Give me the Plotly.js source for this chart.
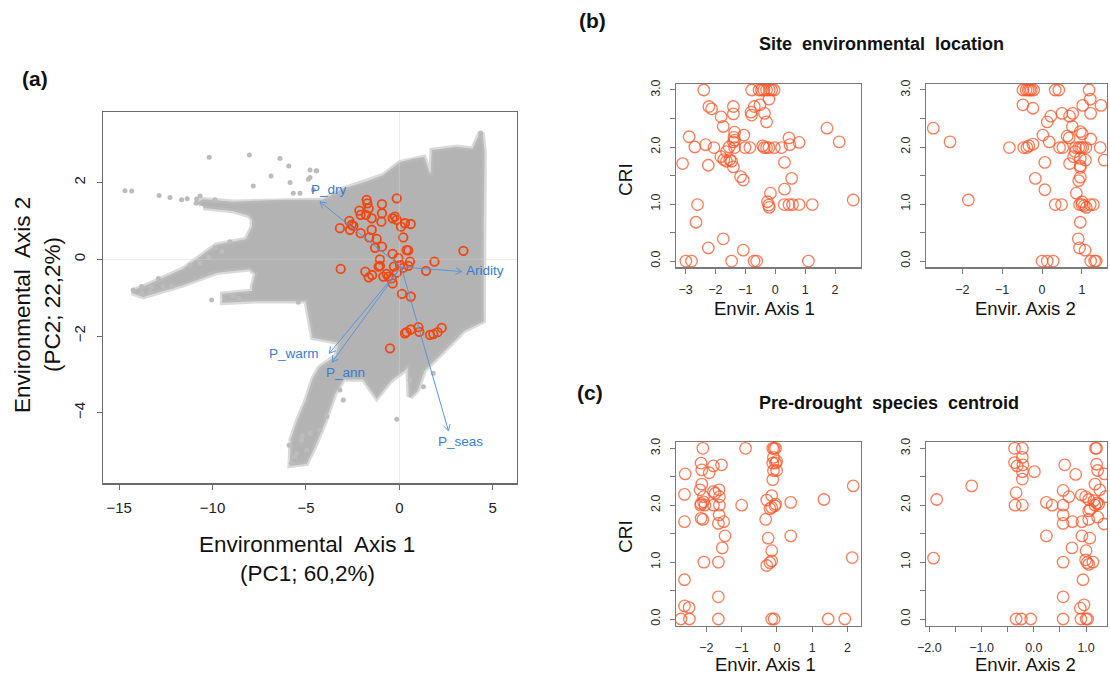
<!DOCTYPE html>
<html>
<head>
<meta charset="utf-8">
<script src="https://cdn.plot.ly/plotly-3.0.1.min.js"></script>
<style>
  html, body { margin: 0; padding: 0; background: #ffffff; }
  #chart { width: 1110px; height: 676px; }
</style>
</head>
<body>
<div id="chart"></div>
<script>
// ---------- (a) environmental space: outline of the background cloud (PC1, PC2) ----------
const cloudX = [-10.8,-10.5,-8.9,-6.2,-4.1,-3.0,-1.75,-0.86,0.04,0.75,1.29,1.55,1.75,1.8,3.07,3.96,4.2,4.38,4.5,4.45,
                4.45,4.15,3.43,3.07,2.54,2.0,1.29,0.93,0.57,0.5,0.21,-0.5,-1.21,-1.9,-3.0,-3.5,-4.0,-4.6,-5.0,-5.8,
                -5.75,-5.4,-4.96,-4.6,-4.25,-3.35,-3.18,-4.6,-4.78,-4.96,-7.64,-9.42,-9.42,-7.82,-7.82,-7.64,-8.0,-9.78,-11.57,-13.71,
                -14.3,-13.35,-11.57,-9.78,-8.17,-7.82,-7.82,-8.0,-8.89,-10.5];
const cloudY = [1.45,1.53,1.47,1.52,1.52,1.81,2.0,2.16,2.5,2.59,2.63,2.25,2.2,2.82,2.9,2.85,3.1,3.3,2.8,1.0,
                -1.6,-1.67,-1.84,-2.02,-2.28,-2.54,-2.89,-3.4,-3.58,-2.75,-2.89,-3.15,-3.58,-3.1,-3.1,-3.5,-4.2,-4.9,-5.3,-5.35,
                -4.7,-4.2,-3.7,-3.15,-2.84,-2.54,-2.15,-2.02,-1.58,-1.06,-1.06,-1.1,-0.93,-0.85,-0.71,-0.37,-0.23,-0.32,-0.64,-0.95,
                -0.85,-0.67,-0.28,0.35,0.5,0.85,1.03,1.16,1.29,1.37];

// scattered background cells lying outside the dense cloud
const strayX = [-10.18,-8.03,-6.39,-5.92,-4.42,-6.87,-5.85,-7.82,-4.87,-14.69,-14.33,-12.86,-12.28,-11.66,-11.36,-10.85,-10.67,-10.89,-5.68,-5.32,
                -4.6,-9.87,-9.07,-9.87,-14.25,-13.8,-13.8,-13.26,-13.35,-12.64,-12.19,-10.05,-5.41,-0.14,-5.77,-5.5,-4.96,-5.23,-4.79,-4.25,
                -3.89,-3.0,-3.18,1.29,0.57,1.82,-4.78,-4.46,-4.78,4.36,-10.67,-10.2,-9.5,-12.9,-11.2,-8.6,-8.9,-5.9,-5.6,-5.2];
const strayY = [2.66,2.72,2.63,2.43,2.31,2.17,2.0,1.91,2.09,1.79,1.78,1.66,1.61,1.55,1.58,1.57,1.65,1.46,1.72,1.72,
                1.81,1.55,0.46,0.31,-0.80,-0.71,-0.87,-0.71,-0.85,-0.71,-0.71,-1.06,-1.12,-4.17,-5.32,-5.06,-4.97,-4.71,-4.54,-4.45,
                -4.1,-3.67,-3.41,-3.32,-3.15,-2.97,2.33,2.31,2.13,3.29,-0.1,0.05,0.2,-0.5,-0.15,-1.02,-0.96,-4.85,-5.15,-4.6];

// study sites in the same space
const siteX = [-1.75,-1.71,-0.14,-0.93,-0.93,-2.14,-2.07,-1.79,-1.64,-1.48,-0.96,-0.36,-0.23,-0.14,0.09,0.30,0.61,0.21,-2.68,-2.55,
               -2.64,-3.18,-2.46,-2.07,-1.48,-1.61,-1.21,-1.30,-0.93,0.39,0.48,3.43,-0.36,-1.04,-0.05,0.57,1.88,1.43,-3.14,-1.11,
               -1.04,0.04,0.21,-0.29,-1.82,-1.64,-1.46,-0.86,-0.59,-0.68,-0.41,-0.14,-0.36,0.14,0.61,0.30,0.39,0.61,1.02,1.07,
               1.64,1.82,2.05,2.27,-0.5,0.48];
const siteY = [1.55,1.46,1.59,1.44,1.20,1.27,1.16,1.16,1.33,1.07,0.98,1.07,1.11,1.03,0.85,0.94,0.92,0.57,1.0,0.90,
               0.77,0.81,0.87,0.68,0.77,0.57,0.53,0.30,0.33,0.24,0.23,0.22,0.14,0.0,0.03,-0.06,-0.06,-0.30,-0.25,-0.19,
               -0.17,-0.15,-0.22,-0.19,-0.32,-0.47,-0.41,-0.45,-0.45,-0.38,-0.50,-0.35,-0.63,-0.90,-0.97,-1.93,-1.90,-1.83,-1.77,-1.89,
               -1.97,-1.95,-1.90,-1.79,-2.32,-0.17];

// climate variable loadings (arrow tips), common origin and label positions
const loadNames  = ['P_dry', 'Aridity', 'P_seas', 'P_warm', 'P_ann'];
const loadX      = [-4.25, 3.34, 2.63, -3.75, -3.60];
const loadY      = [1.50, -0.32, -4.47, -2.45, -2.68];
const loadOrigin = [0.1, -0.2];
const loadLabelX = [-3.75, 4.59, 3.25, -5.64, -2.87];
const loadLabelY = [1.83, -0.30, -4.76, -2.45, -2.95];

// ---------- (b) site environmental location vs CRI ----------
const siteAxis1 = [-2.39,-0.79,-0.54,-0.46,-0.38,-0.29,-0.20,-0.12,-0.04,-0.21,-0.51,-0.70,-2.22,-2.13,-1.40,-1.40,-0.81,-0.79,-0.36,-1.81,
                   -0.29,-1.74,1.73,-1.36,-1.38,-1.36,-1.40,-1.36,-1.05,-2.88,0.46,2.14,0.80,0.49,-2.33,-2.69,-2.05,-1.54,-1.01,-0.85,
                   -0.42,-0.37,-0.29,-0.21,-0.03,0.21,-1.63,-1.82,-1.72,-1.63,-1.52,-1.46,-1.40,-3.10,-2.24,0.31,-1.16,-1.07,0.55,-0.16,
                   0.31,-0.26,-0.22,-0.20,-2.60,0.30,0.46,0.58,0.80,1.24,2.61,-2.65,-1.74,-2.24,-1.07,-2.99,-2.80,-1.46,-0.71,-0.62,1.11];
const siteCRI1  = [3.0,3.0,3.0,3.0,3.0,3.0,3.0,3.0,3.0,2.84,2.74,2.71,2.71,2.67,2.71,2.58,2.61,2.56,2.59,2.53,
                   2.44,2.36,2.33,2.26,2.17,2.12,2.09,1.99,2.21,2.18,2.16,2.09,2.08,2.04,2.04,2.0,1.99,2.0,1.99,1.99,
                   2.02,1.99,1.99,1.99,1.99,1.99,1.92,1.83,1.78,1.75,1.78,1.75,1.65,1.71,1.68,1.73,1.48,1.42,1.45,1.19,
                   1.26,1.04,0.98,0.94,0.99,0.99,0.99,0.99,0.99,0.99,1.07,0.68,0.39,0.23,0.19,0.0,0.0,0.0,0.0,0.0,0.0];

const siteAxis2 = [-0.48,-0.40,-0.35,-0.31,-0.27,-0.21,0.33,0.42,1.18,1.21,-0.48,-0.23,1.02,1.48,1.22,0.50,0.77,0.69,0.22,0.13,
                   -2.73,0.76,0.96,1.01,0.02,0.63,0.68,1.22,-2.31,0.18,-0.82,-0.46,-0.38,-0.33,-0.23,0.44,0.52,0.84,0.92,0.97,
                   1.02,1.10,1.46,0.83,0.79,0.96,1.09,1.56,0.07,0.69,0.96,0.96,-0.17,0.96,0.92,0.07,0.86,-1.85,0.33,0.49,
                   0.94,1.0,1.06,1.11,1.21,1.29,1.0,0.96,0.91,0.94,1.08,0.0,0.13,0.28,1.22,1.32,1.36];
const siteCRI2  = [3.0,3.0,3.0,3.0,3.0,3.0,3.0,3.0,3.0,2.84,2.74,2.68,2.73,2.73,2.59,2.59,2.59,2.54,2.54,2.44,
                   2.33,2.36,2.27,2.23,2.21,2.19,2.16,2.14,2.09,2.09,1.99,1.99,1.99,2.02,2.05,1.99,1.99,1.99,1.99,1.99,
                   1.99,1.99,1.99,1.92,1.83,1.80,1.77,1.77,1.73,1.71,1.67,1.64,1.45,1.47,1.41,1.25,1.19,1.07,0.99,0.99,
                   0.99,0.99,0.97,0.94,0.99,0.99,1.04,0.68,0.39,0.23,0.19,0.0,0.0,0.0,0.0,0.0,0.0];

// ---------- (c) pre-drought species centroid vs CRI ----------
const sppAxis1 = [-2.10,-0.89,-0.12,-0.08,-0.04,-0.10,-0.12,-0.04,-0.01,-2.15,-1.80,-1.57,-2.13,-1.92,-0.10,-0.01,-2.60,-0.12,-2.13,2.16,
                  -2.18,-1.64,-1.80,-1.75,-2.62,-0.15,-2.08,-2.08,-2.15,-1.63,1.33,-0.29,0.39,-2.04,-2.16,-1.0,-1.63,-1.80,-0.04,-0.06,
                  -0.15,-0.20,-1.64,-2.15,-2.10,-2.62,-1.51,-0.32,-1.66,-1.47,0.39,-0.25,-1.55,-0.15,-0.15,-0.20,-0.29,-2.07,-1.66,2.13,
                  -2.62,-1.66,-2.62,-2.49,-2.72,-2.48,-1.66,-0.15,-0.08,1.45,1.92];
const sppCRI1  = [3.0,3.0,3.0,3.0,3.0,2.84,2.74,2.74,2.77,2.74,2.69,2.71,2.62,2.57,2.61,2.61,2.55,2.45,2.37,2.34,
                  2.27,2.27,2.24,2.21,2.19,2.17,2.15,2.06,2.03,2.15,2.10,2.09,2.05,2.0,2.0,2.0,2.0,2.0,2.02,1.99,
                  1.96,1.94,1.83,1.77,1.75,1.71,1.71,1.75,1.68,1.46,1.46,1.42,1.25,1.20,1.02,0.99,0.94,1.0,1.0,1.08,
                  0.69,0.39,0.23,0.20,0.0,0.0,0.0,0.0,0.0,0.0,0.0];

const sppAxis2 = [-0.37,-0.22,1.18,1.20,-0.22,-0.37,-0.32,-0.21,1.20,0.59,-0.22,0.01,1.22,0.80,1.35,-0.22,-1.19,1.17,1.26,0.56,
                  -0.34,0.91,0.99,0.67,1.37,-1.86,1.05,1.15,0.24,0.35,-0.36,-0.22,0.56,1.17,1.24,1.21,1.08,1.05,0.56,1.22,
                  1.05,0.56,0.74,0.92,1.34,0.92,1.07,0.24,0.73,1.0,0.99,1.02,1.05,1.13,0.56,-1.92,0.94,0.56,0.96,0.89,
                  -0.34,-0.24,-0.06,0.56,0.90,1.0,1.03];
const sppCRI2  = [3.0,3.0,3.0,3.0,2.84,2.75,2.69,2.71,2.72,2.71,2.59,2.59,2.61,2.54,2.55,2.46,2.34,2.37,2.27,2.26,
                  2.22,2.18,2.15,2.15,2.15,2.10,2.10,2.08,2.05,2.0,2.0,2.0,2.0,2.0,2.02,2.04,1.93,1.90,1.83,1.79,
                  1.75,1.68,1.71,1.71,1.67,1.46,1.42,1.46,1.25,1.20,1.04,0.99,0.96,1.0,1.0,1.07,0.69,0.39,0.25,0.19,
                  0.0,0.0,0.0,0.0,0.0,0.0,0.0];

// ---------- page geometry ----------
const W = 1110, H = 676;
const FONT = 'Liberation Sans, Arial, Helvetica, sans-serif';
const px = v => v / W;
const py = v => 1 - v / H;

const rangeA = { x: [-15.85, 6.30], y: [-5.84, 3.84] };
const boxA = { l: 103.3, r: 517, t: 112, b: 483.3 };

// ---------- traces ----------
const traces = [];

// soft halo first, then the dense cloud body
traces.push({
  type: 'scatter', x: cloudX, y: cloudY, mode: 'lines',
  line: { color: 'rgba(188,188,188,0.55)', width: 7 },
  xaxis: 'x', yaxis: 'y', hoverinfo: 'skip'
});
traces.push({
  type: 'scatter', x: cloudX, y: cloudY, mode: 'lines', fill: 'toself',
  fillcolor: 'rgb(179,179,179)', line: { color: 'rgb(185,185,185)', width: 2.5 },
  xaxis: 'x', yaxis: 'y', hoverinfo: 'skip'
});
traces.push({
  type: 'scatter', x: strayX, y: strayY, mode: 'markers',
  marker: { color: 'rgb(188,188,188)', size: 5 },
  xaxis: 'x', yaxis: 'y', hoverinfo: 'skip'
});
traces.push({
  type: 'scatter', x: siteX, y: siteY, mode: 'markers',
  marker: { symbol: 'circle-open', color: 'rgb(242,70,16)', size: 8.5, line: { width: 1.8 } },
  xaxis: 'x', yaxis: 'y'
});

// loading arrows with open V heads built in pixel space
const kx = (boxA.r - boxA.l) / (rangeA.x[1] - rangeA.x[0]);
const ky = (boxA.b - boxA.t) / (rangeA.y[1] - rangeA.y[0]);
const arrowColor = 'rgb(90,150,218)';
for (let i = 0; i < loadNames.length; i++) {
  const ox = loadOrigin[0], oy = loadOrigin[1];
  const hx = loadX[i], hy = loadY[i];
  traces.push({
    type: 'scatter', x: [ox, hx], y: [oy, hy], mode: 'lines',
    line: { color: arrowColor, width: 1 }, xaxis: 'x', yaxis: 'y', hoverinfo: 'skip'
  });
  const dx = (hx - ox) * kx, dy = (hy - oy) * ky;
  const len = Math.hypot(dx, dy);
  const ux = dx / len, uy = dy / len;
  const L = 7, a = Math.PI / 6;
  const wing = s => {
    const c = Math.cos(s * a), sn = Math.sin(s * a);
    const rx = ux * c - uy * sn, ry = ux * sn + uy * c;
    return [hx - L * rx / kx, hy - L * ry / ky];
  };
  const w1 = wing(1), w2 = wing(-1);
  traces.push({
    type: 'scatter', x: [w1[0], hx, w2[0]], y: [w1[1], hy, w2[1]], mode: 'lines',
    line: { color: arrowColor, width: 1 }, xaxis: 'x', yaxis: 'y', hoverinfo: 'skip'
  });
}

const smallMarker = { symbol: 'circle-open', color: 'rgba(255,84,38,0.78)', size: 11.5, line: { width: 1.3 } };
traces.push({ type: 'scatter', mode: 'markers', x: siteAxis1, y: siteCRI1, marker: smallMarker, xaxis: 'x2', yaxis: 'y2' });
traces.push({ type: 'scatter', mode: 'markers', x: siteAxis2, y: siteCRI2, marker: smallMarker, xaxis: 'x3', yaxis: 'y3' });
traces.push({ type: 'scatter', mode: 'markers', x: sppAxis1, y: sppCRI1, marker: smallMarker, xaxis: 'x4', yaxis: 'y4' });
traces.push({ type: 'scatter', mode: 'markers', x: sppAxis2, y: sppCRI2, marker: smallMarker, xaxis: 'x5', yaxis: 'y5' });

// ---------- axes ----------
const MINUS = '\u2212';
const criVals = [0, 0.5, 1, 1.5, 2, 2.5, 3];
const criText = ['0.0', '', '1.0', '', '2.0', '', '3.0'];

function axisBase(extra) {
  return Object.assign({
    showgrid: false, zeroline: false, showline: true, mirror: true,
    linecolor: '#7a7a7a', linewidth: 1.2, ticks: 'outside', ticklen: 5,
    tickcolor: '#7a7a7a', tickwidth: 1, tickfont: { family: FONT, size: 12.5, color: '#2a2a2a' },
    ticklabelstandoff: 5, fixedrange: true
  }, extra);
}

const layout = {
  width: W, height: H, margin: { l: 0, r: 0, t: 0, b: 0 },
  paper_bgcolor: '#ffffff', plot_bgcolor: '#ffffff', showlegend: false,
  font: { family: FONT },
  xaxis: axisBase({
    domain: [px(boxA.l), px(boxA.r)], range: rangeA.x, anchor: 'y',
    tickvals: [-15, -10, -5, 0, 5], linecolor: '#6a6a6a', tickcolor: '#6a6a6a',
    tickfont: { family: FONT, size: 15, color: '#222' }, ticklen: 5, ticklabelstandoff: 5,
    zeroline: true, zerolinecolor: '#e8e8e8', zerolinewidth: 1
  }),
  yaxis: axisBase({
    domain: [py(boxA.b), py(boxA.t)], range: rangeA.y, anchor: 'x',
    tickvals: [-4, -2, 0, 2], tickangle: -90, linecolor: '#6a6a6a', tickcolor: '#6a6a6a',
    tickfont: { family: FONT, size: 15, color: '#222' }, ticklen: 5, ticklabelstandoff: 6,
    zeroline: true, zerolinecolor: '#e8e8e8', zerolinewidth: 1
  }),
  xaxis2: axisBase({ domain: [px(676), px(861)], range: [-3.32, 2.87], anchor: 'y2', tickvals: [-3, -2, -1, 0, 1, 2] }),
  yaxis2: axisBase({ domain: [py(267.3), py(84)], range: [-0.11, 3.105], anchor: 'x2', tickvals: criVals, ticktext: criText, tickangle: -90 }),
  xaxis3: axisBase({ domain: [px(925.7), px(1107)], range: [-2.92, 1.63], anchor: 'y3', tickvals: [-2, -1, 0, 1] }),
  yaxis3: axisBase({ domain: [py(267.3), py(84)], range: [-0.11, 3.105], anchor: 'x3', tickvals: criVals, ticktext: criText, tickangle: -90 }),
  xaxis4: axisBase({ domain: [px(676), px(861)], range: [-2.86, 2.38], anchor: 'y4', tickvals: [-2, -1, 0, 1, 2] }),
  yaxis4: axisBase({ domain: [py(626), py(441.7)], range: [-0.123, 3.116], anchor: 'x4', tickvals: criVals, ticktext: criText, tickangle: -90 }),
  xaxis5: axisBase({ domain: [px(925.7), px(1107)], range: [-2.07, 1.40], anchor: 'y5',
                     tickvals: [-2, -1.5, -1, -0.5, 0, 0.5, 1], ticktext: [MINUS + '2.0', '', MINUS + '1.0', '', '0.0', '', '1.0'] }),
  yaxis5: axisBase({ domain: [py(626), py(441.7)], range: [-0.123, 3.116], anchor: 'x5', tickvals: criVals, ticktext: criText, tickangle: -90 }),
  shapes: [
    { type: 'line', xref: 'x', yref: 'y domain', x0: 0, x1: 0, y0: 0, y1: 1, layer: 'above',
      line: { color: 'rgba(255,255,255,0.22)', width: 1 } },
    { type: 'line', xref: 'x domain', yref: 'y', x0: 0, x1: 1, y0: 0, y1: 0, layer: 'above',
      line: { color: 'rgba(255,255,255,0.22)', width: 1 } }
  ],
  annotations: []
};

function note(text, x, y, size, opts) {
  layout.annotations.push(Object.assign({
    text: text, xref: 'paper', yref: 'paper', x: px(x), y: py(y),
    xanchor: 'center', yanchor: 'middle', showarrow: false,
    font: { family: FONT, size: size, color: '#111' }
  }, opts || {}));
}

// panel letters and headings
note('<b>(a)</b>', 35, 78, 21);
note('<b>(b)</b>', 592, 21, 21);
note('<b>(c)</b>', 590, 392, 21);
note('<b>Site  environmental  location</b>', 881, 44, 18);
note('<b>Pre-drought  species  centroid</b>', 889, 403, 18);

// panel (a) axis titles
note('Environmental  Axis 1', 307, 544, 22.5);
note('(PC1; 60,2%)', 307, 573, 22.5);
note('Environmental  Axis 2', 23, 305, 22.5, { textangle: -90 });
note('(PC2; 22,2%)', 53, 305, 22.5, { textangle: -90 });

// panels (b) and (c) axis titles
note('Envir. Axis 1', 764, 308, 18.5);
note('Envir. Axis 2', 1025, 308, 18.5);
note('Envir. Axis 1', 765, 664, 18.5);
note('Envir. Axis 2', 1025, 664, 18.5);
note('CRI', 625, 180, 19, { textangle: -90 });
note('CRI', 625, 537, 19, { textangle: -90 });

// loading labels in data coordinates
for (let i = 0; i < loadNames.length; i++) {
  layout.annotations.push({
    text: loadNames[i], xref: 'x', yref: 'y', x: loadLabelX[i], y: loadLabelY[i],
    xanchor: 'center', yanchor: 'middle', showarrow: false,
    font: { family: FONT, size: 13.5, color: 'rgb(52,126,212)' }
  });
}

Plotly.newPlot('chart', traces, layout, { staticPlot: true, displayModeBar: false });
</script>
</body>
</html>
